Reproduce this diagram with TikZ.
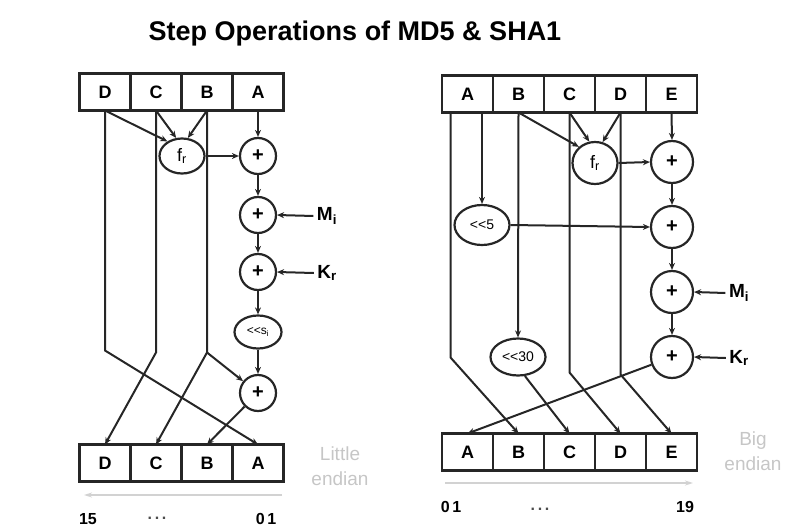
\documentclass[tikz,border=0pt]{standalone}
\usepackage{fontspec}
\setmainfont{Liberation Sans}
\usetikzlibrary{arrows.meta,shapes.geometric,positioning}

\tikzset{
	regcell/.style={rectangle, draw=black!85, line width=2.2pt, minimum width=51pt, minimum height=37pt, inner sep=0pt, outer sep=0pt, font=\fontsize{18}{18}\selectfont\bfseries},
	adder/.style={circle, draw=black!85, line width=2.2pt, minimum size=#1, inner sep=0pt, font=\fontsize{20}{20}\selectfont\bfseries},
	adder/.default=36pt,
	oper/.style={ellipse, draw=black!85, line width=2.2pt, minimum width=#1, minimum height=35pt, inner sep=0pt, font=\fontsize{14}{14}\selectfont},
	wire/.style={line width=2pt, draw=black!85},
	inlabel/.style={font=\fontsize{19}{19}\selectfont\bfseries},
	endianlabel/.style={align=center, text=gray!45, font=\fontsize{19}{25}\selectfont},
	scalearrow/.style={line width=2pt, draw=gray!35, -{Stealth[length=8pt,width=5pt]}},
	numlabel/.style={font=\fontsize{16}{16}\selectfont\bfseries}
}

\begin{document}
\begin{tikzpicture}[x=1pt, y=-1pt, >={Stealth[length=7pt,width=6pt]}]
	\useasboundingbox (0,0) rectangle (805,527);

	\node[font=\fontsize{27}{27}\selectfont\bfseries](title) at (355,34){Step Operations of MD5 \& SHA1};

	% MD5
	\node[regcell](lTopD) at (105,92){D};
	\node[regcell, right=0pt of lTopD](lTopC){C};
	\node[regcell, right=0pt of lTopC](lTopB){B};
	\node[regcell, right=0pt of lTopB](lTopA){A};

	\node[oper=45pt](lF) at (182,156){\fontsize{18}{18}\selectfont f\textsubscript{r}};
	\node[adder](lAdd1) at (258,156){+};
	\node[adder](lAdd2) at (258,215){+};
	\node[adder](lAdd3) at (258,272){+};
	\node[oper=47pt, minimum height=33pt](lRotS) at (258,332){\fontsize{12}{12}\selectfont <{}<s\textsubscript{i}};
	\node[adder](lAdd4) at (258,393){+};
	\node[inlabel](lMsg) at (327,216){M\textsubscript{i}};
	\node[inlabel](lKey) at (327,273){K\textsubscript{r}};

	\node[regcell](lBotD) at (105,463){D};
	\node[regcell, right=0pt of lBotD](lBotC){C};
	\node[regcell, right=0pt of lBotC](lBotB){B};
	\node[regcell, right=0pt of lBotB](lBotA){A};

	\draw[wire, ->] (lTopD.south) -- (lF.135);
	\draw[wire, ->] (lTopC.south) -- (lF.108);
	\draw[wire, ->] (lTopB.south) -- (lF.72);
	\draw[wire, ->] (lTopA.south) -- (lAdd1.north);
	\draw[wire, ->] (lF.east) -- (lAdd1.west);
	\draw[wire, ->] (lAdd1.south) -- (lAdd2.north);
	\draw[wire, ->] (lAdd2.south) -- (lAdd3.north);
	\draw[wire, ->] (lAdd3.south) -- (lRotS.north);
	\draw[wire, ->] (lRotS.south) -- (lAdd4.north);
	\draw[wire, ->] (lMsg.west) -- (lAdd2.east);
	\draw[wire, ->] (lKey.west) -- (lAdd3.east);

	\draw[wire, ->] (lTopD.south) -- ++(0,240) -- (lBotA.north);
	\draw[wire, ->] (lTopC.south) -- ++(0,242) -- (lBotD.north);
	\draw[wire, ->] (lTopB.south) -- ++(0,242) coordinate (lBendB) -- (lBotC.north);
	\draw[wire, ->] (lBendB) -- (lAdd4);
	\draw[wire, ->] (lAdd4) -- (lBotB.north);

	\node[endianlabel](lEndian) at (340,466){Little\\endian};
	\coordinate (lScaleR) at (282,495);
	\coordinate (lScaleL) at (84,495);
	\draw[scalearrow] (lScaleR) -- (lScaleL);
	\node[numlabel](lNumHi) at (88,519){15};
	\node[numlabel](lNumLo) at (266,519){0\,1};
	\node[numlabel, text=black!70](lDots) at (157,518){.\,.\,.};

	% SHA1
	\node[regcell](rTopA) at (467.5,94){A};
	\node[regcell, right=0pt of rTopA](rTopB){B};
	\node[regcell, right=0pt of rTopB](rTopC){C};
	\node[regcell, right=0pt of rTopC](rTopD){D};
	\node[regcell, right=0pt of rTopD](rTopE){E};

	\node[oper=45pt, minimum height=42pt](rF) at (595,163){\fontsize{18}{18}\selectfont f\textsubscript{r}};
	\node[oper=55pt, minimum height=40pt](rRot5) at (482,225){<{}<5};
	\node[oper=55pt, minimum height=37pt](rRot30) at (518,357){<{}<30};
	\node[adder=42pt](rAdd1) at (672,162){+};
	\node[adder=42pt](rAdd2) at (672,227){+};
	\node[adder=42pt](rAdd3) at (672,292){+};
	\node[adder=42pt](rAdd4) at (672,357){+};
	\node[inlabel](rMsg) at (739,293){M\textsubscript{i}};
	\node[inlabel](rKey) at (739,358){K\textsubscript{r}};

	\node[regcell](rBotA) at (467.5,452){A};
	\node[regcell, right=0pt of rBotA](rBotB){B};
	\node[regcell, right=0pt of rBotB](rBotC){C};
	\node[regcell, right=0pt of rBotC](rBotD){D};
	\node[regcell, right=0pt of rBotD](rBotE){E};

	\draw[wire, ->] (rTopB.south) -- (rF.135);
	\draw[wire, ->] (rTopC.south) -- (rF.105);
	\draw[wire, ->] (rTopD.south) -- (rF.70);
	\draw[wire, ->] (rTopE.south) -- (rAdd1.north);
	\draw[wire, ->] (rF.east) -- (rAdd1.west);
	\draw[wire, ->] (rRot5.north |- rTopA.south) -- (rRot5.north);
	\draw[wire, ->] (rRot5.east) -- (rAdd2.west);
	\draw[wire, ->] (rAdd1.south) -- (rAdd2.north);
	\draw[wire, ->] (rAdd2.south) -- (rAdd3.north);
	\draw[wire, ->] (rAdd3.south) -- (rAdd4.north);
	\draw[wire, ->] (rMsg.west) -- (rAdd3.east);
	\draw[wire, ->] (rKey.west) -- (rAdd4.east);

	\draw[wire, ->] ([xshift=-17pt]rTopA.south) -- ++(0,245) -- (rBotB.north);
	\draw[wire, ->] (rTopB.south) -- (rRot30.north);
	\draw[wire, ->] (rRot30.-70) -- (rBotC.north);
	\draw[wire, ->] (rTopC.south) -- ++(0,260) -- (rBotD.north);
	\draw[wire, ->] (rTopD.south) -- ++(0,262) -- (rBotE.north);
	\draw[wire, ->] (rAdd4) -- (rBotA.north);

	\node[endianlabel](rEndian) at (753,451){Big\\endian};
	\coordinate (rScaleL) at (445,483);
	\coordinate (rScaleR) at (693,483);
	\draw[scalearrow] (rScaleL) -- (rScaleR);
	\node[numlabel](rNumLo) at (451,507){0\,1};
	\node[numlabel, text=black!70](rDots) at (540,509){.\,.\,.};
	\node[numlabel](rNumHi) at (685,507){19};
\end{tikzpicture}
\end{document}
